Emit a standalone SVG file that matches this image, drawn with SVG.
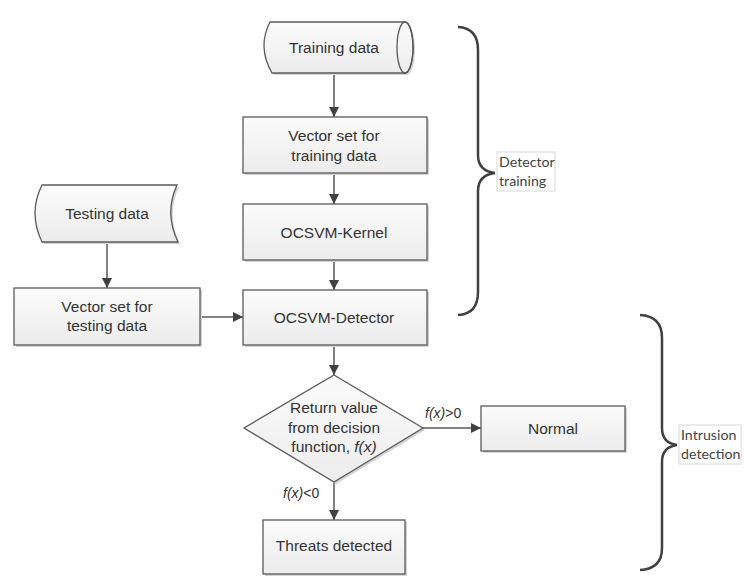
<svg xmlns="http://www.w3.org/2000/svg" width="748" height="576" viewBox="0 0 748 576">
<defs>
<linearGradient id="g" x1="0" y1="0" x2="0" y2="1">
<stop offset="0" stop-color="#fbfbfb"/>
<stop offset="1" stop-color="#ececec"/>
</linearGradient>
<marker id="ah" markerWidth="10" markerHeight="10" refX="10" refY="5" orient="auto" markerUnits="userSpaceOnUse">
<path d="M0,0 L10,5 L0,10 Z" fill="#404040"/>
</marker>
<style>
.n{fill:url(#g);stroke:#5a5a5a;stroke-width:1.3}
.sh{fill:#d4d4d4;stroke:none}
.t{font-family:"Liberation Sans",Arial,sans-serif;font-size:15.5px;fill:#333;text-anchor:middle}
.l{font-family:"Liberation Sans",Arial,sans-serif;font-size:14px;fill:#333}
.c{stroke:#595959;stroke-width:1.5;fill:none;marker-end:url(#ah)}
.b{stroke:#404040;stroke-width:2.5;fill:none}
.bl{font-family:Lato,"Open Sans",sans-serif;font-size:14.2px;fill:#444}
.lb{fill:#fff;stroke:#d8d8d8;stroke-width:1}
</style>
</defs>
<rect width="748" height="576" fill="#fff"/>

<g id="connectors">
<line class="c" x1="334" y1="73" x2="334" y2="117"/>
<line class="c" x1="334" y1="173" x2="334" y2="204"/>
<line class="c" x1="334" y1="260" x2="334" y2="290"/>
<line class="c" x1="107" y1="242" x2="107" y2="288"/>
<line class="c" x1="200" y1="317" x2="243" y2="317"/>
<line class="c" x1="334" y1="345" x2="334" y2="375"/>
<line class="c" x1="423" y1="428" x2="481" y2="428"/>
<line class="c" x1="334" y1="482" x2="334" y2="520"/>
<text class="l" x="425" y="418"><tspan font-style="italic">f(x)</tspan>&gt;0</text>
<text class="l" x="283" y="498"><tspan font-style="italic">f(x)</tspan>&lt;0</text>
</g>

<g id="training_data">
<path class="sh" d="M272,24 L407,24 A8,25.5 0 0 1 407,75 L274,75 Q263,49 272,24 Z"/>
<path class="n" d="M270,22 L405,22 A8,25.5 0 0 1 405,73 L272,73 Q257,47 270,22 Z"/>
<ellipse cx="405" cy="47.5" rx="8" ry="25.5" fill="none" stroke="#5a5a5a" stroke-width="1.3"/>
<text class="t" x="334" y="53">Training data</text>
</g>

<g id="vector_training">
<rect class="sh" x="245" y="119" width="184" height="56"/>
<rect class="n" x="243" y="117" width="184" height="56"/>
<text class="t" x="334" y="141">Vector set for</text>
<text class="t" x="334" y="161">training data</text>
</g>

<g id="ocsvm_kernel">
<rect class="sh" x="245" y="206" width="184" height="56"/>
<rect class="n" x="243" y="204" width="184" height="56"/>
<text class="t" x="334" y="238">OCSVM-Kernel</text>
</g>

<g id="ocsvm_detector">
<rect class="sh" x="245" y="292" width="184" height="55"/>
<rect class="n" x="243" y="290" width="184" height="55"/>
<text class="t" x="334" y="323">OCSVM-Detector</text>
</g>

<g id="testing_data">
<path class="sh" d="M44,187 L179,187 Q166,215 180,244 L44,244 Q30,215 44,187 Z"/>
<path class="n" d="M42,185 L177,185 Q164,213 178,242 L42,242 Q28,213 42,185 Z"/>
<text class="t" x="107" y="219">Testing data</text>
</g>

<g id="vector_testing">
<rect class="sh" x="16" y="290" width="186" height="57"/>
<rect class="n" x="14" y="288" width="186" height="57"/>
<text class="t" x="107" y="312">Vector set for</text>
<text class="t" x="107" y="331">testing data</text>
</g>

<g id="decision">
<path class="sh" d="M336,377 L425,430 L336,484 L246,430 Z"/>
<path class="n" d="M334,375 L423,428 L334,482 L244,428 Z"/>
<text class="t" x="334" y="413">Return value</text>
<text class="t" x="334" y="433">from decision</text>
<text class="t" x="334" y="452">function, <tspan font-style="italic">f(x)</tspan></text>
</g>

<g id="normal">
<rect class="sh" x="483" y="408" width="144" height="45"/>
<rect class="n" x="481" y="406" width="144" height="45"/>
<text class="t" x="553" y="434">Normal</text>
</g>

<g id="threats">
<rect class="sh" x="265" y="522" width="142" height="54"/>
<rect class="n" x="263" y="520" width="142" height="54"/>
<text class="t" x="334" y="551">Threats detected</text>
</g>

<g id="brace_training">
<path class="b" d="M458,27 Q478,28 478,50 L478,155 Q478,171 495,173 Q478,175 478,191 L478,292 Q478,314 458,315"/>
<rect class="lb" x="497" y="152" width="58" height="39"/>
<text class="bl" x="499" y="167">Detector</text>
<text class="bl" x="499" y="186">training</text>
</g>

<g id="brace_intrusion">
<path class="b" d="M640,315 Q662,316 662,338 L662,428 Q662,443 677,445 Q662,447 662,462 L662,548 Q662,569 640,570"/>
<rect class="lb" x="679" y="425" width="62" height="39"/>
<text class="bl" x="681" y="440">Intrusion</text>
<text class="bl" x="681" y="459">detection</text>
</g>
</svg>
